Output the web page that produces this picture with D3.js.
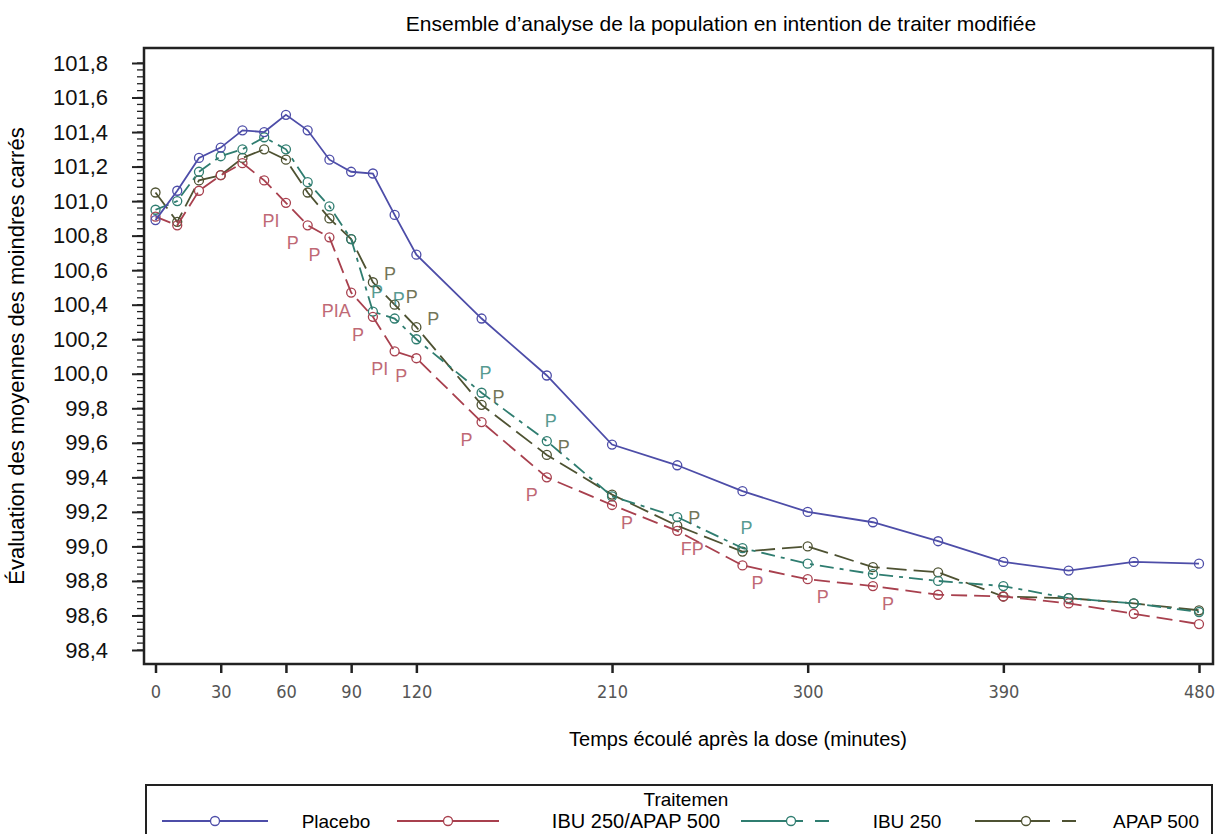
<!DOCTYPE html>
<html>
<head>
<meta charset="utf-8">
<script src="https://cdn.jsdelivr.net/npm/d3@7"></script>
<style>
  body { margin: 0; background: #fff; }
  text { font-family: "Liberation Sans", Arial, sans-serif; }
</style>
</head>
<body>
<script>
var minutes = [0,10,20,30,40,50,60,70,80,90,100,110,120,150,180,210,240,270,300,330,360,390,420,450,480];

var placebo = [100.89,101.06,101.25,101.31,101.41,101.40,101.50,101.41,101.24,101.17,101.16,100.92,100.69,100.32,99.99,99.59,99.47,99.32,99.20,99.14,99.03,98.91,98.86,98.91,98.90];
var ibuApap = [100.91,100.86,101.06,101.15,101.22,101.12,100.99,100.86,100.79,100.47,100.33,100.13,100.09,99.72,99.40,99.24,99.09,98.89,98.81,98.77,98.72,98.71,98.67,98.61,98.55];
var ibu250 = [100.95,101.00,101.17,101.26,101.30,101.37,101.30,101.11,100.97,100.78,100.36,100.32,100.20,99.89,99.61,99.29,99.17,98.99,98.90,98.84,98.80,98.77,98.70,98.67,98.62];
var apap500 = [101.05,100.88,101.12,101.15,101.25,101.30,101.24,101.05,100.90,100.78,100.53,100.40,100.27,99.82,99.53,99.30,99.12,98.97,99.00,98.88,98.85,98.71,98.70,98.67,98.63];

var xTicks = [0,30,60,90,120,210,300,390,480];
var yTicks = [98.4,98.6,98.8,99.0,99.2,99.4,99.6,99.8,100.0,100.2,100.4,100.6,100.8,101.0,101.2,101.4,101.6,101.8];

// significance marks printed next to the points
var ibuApapMarks = [[60,'PI'],[70,'P'],[80,'P'],[90,'PIA'],[100,'P'],[110,'PI'],[120,'P'],[150,'P'],[180,'P'],[210,'P'],[240,'FP'],[270,'P'],[300,'P'],[330,'P']];
var ibu250Marks = [[100,'P'],[110,'P'],[150,'P'],[180,'P'],[270,'P']];
var apap500Marks = [[100,'P'],[110,'P'],[120,'P'],[150,'P'],[180,'P'],[240,'P']];

var title = 'Ensemble d\u2019analyse de la population en intention de traiter modifi\u00e9e';

var width = 1216, height = 834;
var padL = 144, padR = 1213, padT = 48, padB = 664;

var svg = d3.select('body').append('svg')
  .attr('width', width)
  .attr('height', height);

var x = d3.scaleLinear().domain([0, 480]).range([155.5, 1199]);
var y = d3.scaleLinear().domain([98.4, 101.8]).range([650, 63]);

svg.append('text')
  .attr('x', 721).attr('y', 31)
  .attr('text-anchor', 'middle')
  .style('font-size', '21px')
  .text(title);

// y axis with minor ticks
var yMinor = d3.range(98.4, 101.81, 0.04);
svg.append('g').selectAll('line').data(yMinor).enter().append('line')
  .attr('x1', padL - 7).attr('x2', padL)
  .attr('y1', function(d){ return y(d); })
  .attr('y2', function(d){ return y(d); })
  .attr('stroke', '#222').attr('stroke-width', 1.3);

var yAxis = svg.append('g')
  .attr('transform', 'translate(' + padL + ',0)')
  .call(d3.axisLeft(y).tickValues(yTicks).tickSize(12).tickPadding(24)
    .tickFormat(function(d){ return d3.format('.1f')(d).replace('.', ','); }));
yAxis.select('.domain').remove();
yAxis.selectAll('line').attr('stroke', '#222').attr('stroke-width', 2);
yAxis.selectAll('text').style('font-size', '22px').attr('fill', '#111');

var xAxis = svg.append('g')
  .attr('transform', 'translate(0,' + padB + ')')
  .call(d3.axisBottom(x).tickValues(xTicks).tickSize(9).tickPadding(12));
xAxis.select('.domain').remove();
xAxis.selectAll('line').attr('stroke', '#222').attr('stroke-width', 2.5);
xAxis.selectAll('text').style('font-size', '18px').attr('fill', '#555')
  .style('font-family', '"DejaVu Sans Condensed", "DejaVu Sans", sans-serif');

// frame
svg.append('rect')
  .attr('x', padL).attr('y', padT)
  .attr('width', padR - padL).attr('height', padB - padT)
  .attr('fill', 'none').attr('stroke', '#222').attr('stroke-width', 2.5);

svg.append('text')
  .attr('transform', 'translate(24,' + 356 + ') rotate(-90)')
  .attr('text-anchor', 'middle')
  .style('font-size', '22px')
  .text('\u00c9valuation des moyennes des moindres carr\u00e9s');

svg.append('text')
  .attr('x', 738).attr('y', 746)
  .attr('text-anchor', 'middle')
  .style('font-size', '20px')
  .text('Temps \u00e9coul\u00e9 apr\u00e8s la dose (minutes)');

var series = [
  {name: 'Placebo', values: placebo, color: '#4d4da8', dash: null},
  {name: 'IBU 250/APAP 500', values: ibuApap, color: '#a8404e', dash: '16,7'},
  {name: 'IBU 250', values: ibu250, color: '#2f7d70', dash: '14,6,4,6'},
  {name: 'APAP 500', values: apap500, color: '#4e5232', dash: '20,7'}
];

var line = d3.line()
  .x(function(d){ return x(d[0]); })
  .y(function(d){ return y(d[1]); });

function pairs(vals) {
  return minutes.map(function(m, i){ return [m, vals[i]]; });
}

// draw back to front so placebo stays on top
[3, 2, 1, 0].forEach(function(k){
  var s = series[k];
  var g = svg.append('g');
  g.append('path')
    .datum(pairs(s.values))
    .attr('d', line)
    .attr('fill', 'none')
    .attr('stroke', s.color)
    .attr('stroke-width', 1.8)
    .attr('stroke-dasharray', s.dash);
  g.selectAll('circle')
    .data(pairs(s.values))
    .enter()
    .append('circle')
    .attr('cx', function(d){ return x(d[0]); })
    .attr('cy', function(d){ return y(d[1]); })
    .attr('r', 4.5)
    .attr('fill', 'none')
    .attr('stroke', s.color)
    .attr('stroke-width', 1.3);
});

function marks(list, vals, color, dx, dy) {
  svg.append('g').selectAll('text')
    .data(list)
    .enter()
    .append('text')
    .attr('x', function(d){ return x(d[0]) + (d[0] <= 180 ? dx : Math.abs(dx)); })
    .attr('y', function(d){ return y(vals[minutes.indexOf(d[0])]) + dy; })
    .attr('text-anchor', 'middle')
    .style('font-size', '18px')
    .attr('fill', color)
    .attr('opacity', 0.85)
    .text(function(d){ return d[1]; });
}
marks(ibuApapMarks, ibuApap, '#b5505e', -15, 24);
marks(ibu250Marks, ibu250, '#3a8a7e', 4, -14);
marks(apap500Marks, apap500, '#5a5e3c', 17, -2);

// legend
var ly = 821;
svg.append('rect')
  .attr('x', 146).attr('y', 785)
  .attr('width', 1066).attr('height', 60)
  .attr('fill', 'none').attr('stroke', '#222').attr('stroke-width', 2);

svg.append('text')
  .attr('x', 686).attr('y', 806)
  .attr('text-anchor', 'middle')
  .style('font-size', '19px')
  .text('Traitemen');

var legendPos = [
  {x1: 162, x2: 268, label: 336},
  {x1: 397, x2: 499, label: 636},
  {x1: 741, x2: 847, label: 907},
  {x1: 975, x2: 1083, label: 1156}
];

series.forEach(function(s, i){
  var p = legendPos[i];
  var lg = svg.append('g');
  lg.append('line')
    .attr('x1', p.x1).attr('x2', p.x2)
    .attr('y1', ly).attr('y2', ly)
    .attr('stroke', s.color).attr('stroke-width', 2)
    .attr('stroke-dasharray', i == 2 ? '50,4,8,12,14,20' : (i == 3 ? '75,12,14,20' : null));
  lg.append('circle')
    .attr('cx', (p.x1 + p.x2) / 2 + (i >= 2 ? -3 : 0)).attr('cy', ly)
    .attr('r', 4.5)
    .attr('fill', '#fff')
    .attr('stroke', s.color).attr('stroke-width', 1.3);
  lg.append('text')
    .attr('x', p.label).attr('y', 828)
    .attr('text-anchor', 'middle')
    .style('font-size', i == 1 ? '20px' : '19px')
    .text(s.name);
});
</script>
</body>
</html>
